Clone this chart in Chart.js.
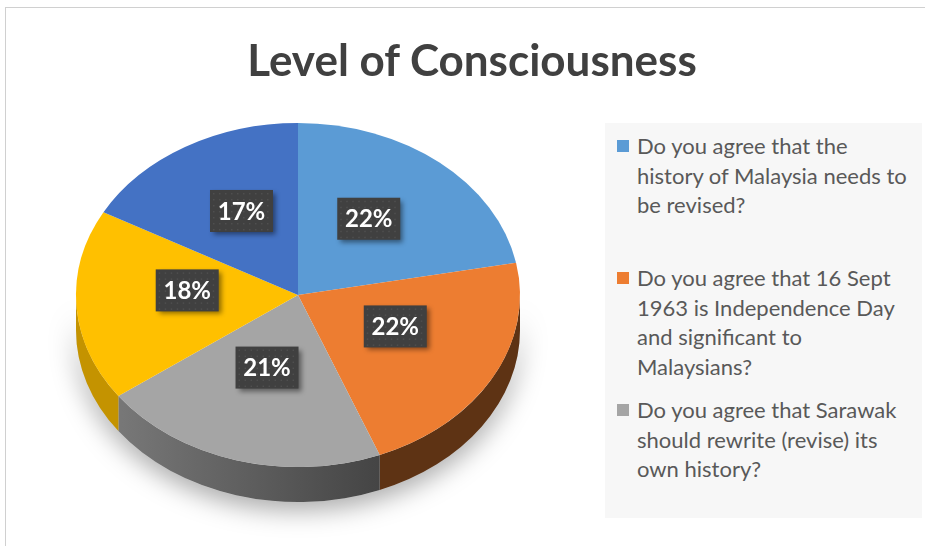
<!DOCTYPE html>
<html>
<head>
<meta charset="utf-8">
<script src="https://cdn.jsdelivr.net/npm/chart.js@4.4.0/dist/chart.umd.min.js"></script>
<style>
  html, body { margin: 0; padding: 0; background: #fff; }
  #wrap { position: relative; width: 925px; height: 546px; overflow: hidden; font-family: Lato, "Open Sans", sans-serif; }
  #frame { position: absolute; left: 5px; top: 7px; width: 940px; height: 560px; border: 1px solid #d0d0d0; box-sizing: border-box; }
  #title { position: absolute; left: 0; width: 944px; top: 33px; text-align: center; font-size: 44px; font-weight: bold; color: #404040; }
  #legendBox { position: absolute; left: 605px; top: 123px; width: 317px; height: 395px; background: #f7f7f7; }
  .item { position: absolute; left: 0; }
  .item .sw { position: absolute; left: 12px; top: 9px; width: 12px; height: 12px; }
  .item .tx { position: absolute; left: 32px; top: 0; white-space: nowrap; font-size: 22px; line-height: 29.5px; color: #595959; }
  #chartBox { position: absolute; left: 0; top: 0; width: 925px; height: 546px; }
</style>
</head>
<body>
<div id="wrap">
  <div id="frame"></div>
  <div id="chartBox"><canvas id="pie"></canvas></div>
  <div id="title">Level of Consciousness</div>
  <div id="legendBox"></div>
</div>
<script>
// data
const labels = [
  ['Do you agree that the', 'history of Malaysia needs to', 'be revised?'],
  ['Do you agree that 16 Sept', '1963 is Independence Day', 'and significant to', 'Malaysians?'],
  ['Do you agree that Sarawak', 'should rewrite (revise) its', 'own history?'],
  ['Question 4'],
  ['Question 5']
];
const values = [22, 22, 21, 18, 17];
const colors = ['#5B9BD5', '#ED7D31', '#A5A5A5', '#FFC000', '#4472C4'];
const sideColors = ['#3a6490', '#5e3314', '#555555', '#c49300', '#2d4f8a'];
const legendShown = 3;

// ellipse look
const squash = 172 / 222;
const centerY = 295;
const depth = 35;

// legend (html)
const legendBox = document.getElementById('legendBox');
for (let i = 0; i < legendShown; i++) {
  const it = document.createElement('div');
  it.className = 'item';
  it.style.top = (8 + i * 132) + 'px';
  it.innerHTML = '<div class="sw" style="background:' + colors[i] + '"></div><div class="tx">' + labels[i].join('<br>') + '</div>';
  legendBox.appendChild(it);
}

function visibleParts(a1, a2) {
  // parts of [a1,a2] lying in the front half (0..PI, mod 2PI)
  const out = [];
  for (let k = -1; k <= 1; k++) {
    const lo = Math.max(a1, k * 2 * Math.PI);
    const hi = Math.min(a2, k * 2 * Math.PI + Math.PI);
    if (hi > lo) out.push([lo, hi]);
  }
  return out;
}

const pie3d = {
  id: 'pie3d',
  beforeDatasetsDraw(chart) {
    const ctx = chart.ctx;
    const arcs = chart.getDatasetMeta(0).data;
    if (!arcs.length) return;
    const cx = arcs[0].x, cy0 = arcs[0].y, r = arcs[0].outerRadius;
    const ry = r * squash;

    // soft shadow under the pie
    ctx.save();
    ctx.shadowColor = 'rgba(0,0,0,0.35)';
    ctx.shadowBlur = 26;
    ctx.shadowOffsetY = 8;
    ctx.fillStyle = '#d8d8d8';
    ctx.beginPath();
    ctx.ellipse(cx, centerY + depth, r, ry, 0, 0, Math.PI);
    ctx.ellipse(cx, centerY, r, ry, 0, Math.PI, 0, true);
    ctx.closePath();
    ctx.fill();
    ctx.restore();

    // side walls
    arcs.forEach((a, i) => {
      visibleParts(a.startAngle, a.endAngle).forEach(([lo, hi]) => {
        ctx.save();
        let fill = sideColors[i];
        if (i === 2) {
          const g = ctx.createLinearGradient(cx - r, 0, cx + r * 0.4, 0);
          g.addColorStop(0, '#808080');
          g.addColorStop(1, '#434343');
          fill = g;
        }
        ctx.fillStyle = fill;
        ctx.beginPath();
        ctx.ellipse(cx, centerY, r, ry, 0, lo, hi);
        ctx.ellipse(cx, centerY + depth, r, ry, 0, hi, lo, true);
        ctx.closePath();
        ctx.fill();
        ctx.restore();
      });
    });

    // squash the top face into an ellipse
    ctx.save();
    ctx.translate(cx, centerY);
    ctx.scale(1, squash);
    ctx.translate(-cx, -cy0);
  },
  afterDatasetsDraw(chart) {
    const ctx = chart.ctx;
    ctx.restore();
    const arcs = chart.getDatasetMeta(0).data;
    const total = values.reduce((s, v) => s + v, 0);
    arcs.forEach((a, i) => {
      const mid = (a.startAngle + a.endAngle) / 2;
      const rr = a.outerRadius * 0.5;
      const x = a.x + rr * Math.cos(mid);
      const y = centerY + rr * squash * Math.sin(mid) - 10;
      const w = 63, h = 42;
      ctx.save();
      ctx.shadowColor = 'rgba(0,0,0,0.45)';
      ctx.shadowBlur = 5;
      ctx.shadowOffsetX = 3;
      ctx.shadowOffsetY = 3;
      ctx.fillStyle = '#404040';
      ctx.fillRect(x - w / 2, y - h / 2, w, h);
      ctx.restore();
      // dotted texture
      ctx.save();
      ctx.fillStyle = 'rgba(255,255,255,0.08)';
      for (let dx = 3; dx < w; dx += 6) {
        for (let dy = 3; dy < h; dy += 6) {
          ctx.fillRect(x - w / 2 + dx, y - h / 2 + dy, 1.5, 1.5);
        }
      }
      ctx.fillStyle = '#ffffff';
      ctx.font = 'bold 24px Lato, "Open Sans", sans-serif';
      ctx.textAlign = 'center';
      ctx.textBaseline = 'middle';
      ctx.fillText(Math.round(values[i] / total * 100) + '%', x, y + 1);
      ctx.restore();
    });
  }
};

new Chart(document.getElementById('pie').getContext('2d'), {
  type: 'pie',
  data: {
    labels: labels,
    datasets: [{
      data: values,
      backgroundColor: colors,
      borderWidth: 0,
      clip: false
    }]
  },
  options: {
    responsive: true,
    maintainAspectRatio: false,
    animation: false,
    events: [],
    layout: { padding: { left: 76, right: 405, top: 51, bottom: 51 } },
    plugins: {
      legend: { display: false },
      tooltip: { enabled: false },
      title: { display: false }
    }
  },
  plugins: [pie3d]
});
</script>
</body>
</html>
